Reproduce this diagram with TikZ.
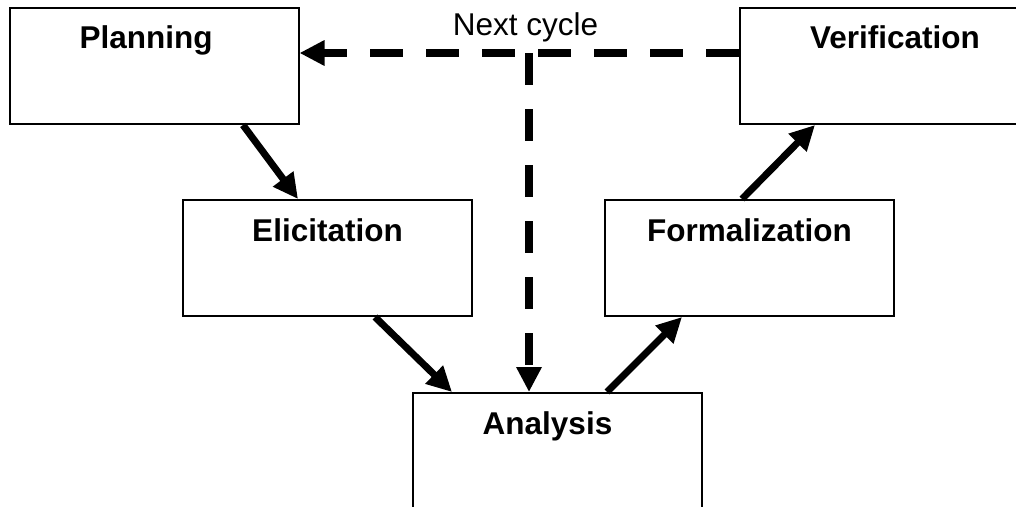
\documentclass[tikz,border=0pt]{standalone}
\usepackage{fontspec}
\setmainfont{Liberation Sans}
\usetikzlibrary{arrows.meta}
\begin{document}
\begin{tikzpicture}[x=1pt,y=-1pt,
  stagebox/.style={draw=black,line width=2pt,fill=white,minimum width=289pt,minimum height=116pt,inner sep=0pt},
  stagetitle/.style={anchor=base,inner sep=0pt,font=\fontsize{31.5}{36}\selectfont\bfseries},
  flow/.style={line width=7pt,-{Triangle[length=25pt,width=24pt]}},
  cycle/.style={line width=7.5pt,dash pattern=on 33pt off 23pt,-{Triangle[length=25pt,width=24pt]}}]
\clip (0,0) rectangle (1016,506);
\fill[white] (0,0) rectangle (1016,506);

% stages
\node[stagebox] (plan) at (154,66) {};
\node[stagebox] (ver)  at (884,66) {};
\node[stagebox] (eli)  at (327.5,258) {};
\node[stagebox] (form) at (749.5,258) {};
\node[stagebox] (ana)  at (557.5,451) {};

\node[stagetitle] (plantxt) at ([xshift=-8pt,yshift=-41pt]plan.north) {Planning};
\node[stagetitle] (vertxt)  at ([xshift=11pt,yshift=-41pt]ver.north) {Verification};
\node[stagetitle] (elitxt)  at ([yshift=-42pt]eli.north) {Elicitation};
\node[stagetitle] (formtxt) at ([yshift=-42pt]form.north) {Formalization};
\node[stagetitle] (anatxt)  at ([xshift=-10pt,yshift=-42pt]ana.north) {Analysis};

% forward flow
\draw[flow] ([xshift=89pt]plan.south) -- ([xshift=-29.5pt]eli.north);
\draw[flow] ([xshift=47.5pt]eli.south) -- ([xshift=-105.5pt]ana.north);
\draw[flow] ([xshift=49.5pt]ana.north) -- ([xshift=-67.5pt]form.south);
\draw[flow] ([xshift=-7.5pt]form.north) -- ([xshift=-69pt]ver.south);

% feedback to the next cycle
\coordinate (fork) at (529,53);
\draw[cycle] ([yshift=13pt]ver.west) -- ([yshift=13pt]plan.east);
\draw[cycle,dash pattern=on 32pt off 24pt] (fork) -- ([xshift=-28.5pt]ana.north);
\node[anchor=base,inner sep=0pt,font=\fontsize{31.5}{36}\selectfont] (next) at (525.5,35.5) {Next cycle};
\end{tikzpicture}
\end{document}
